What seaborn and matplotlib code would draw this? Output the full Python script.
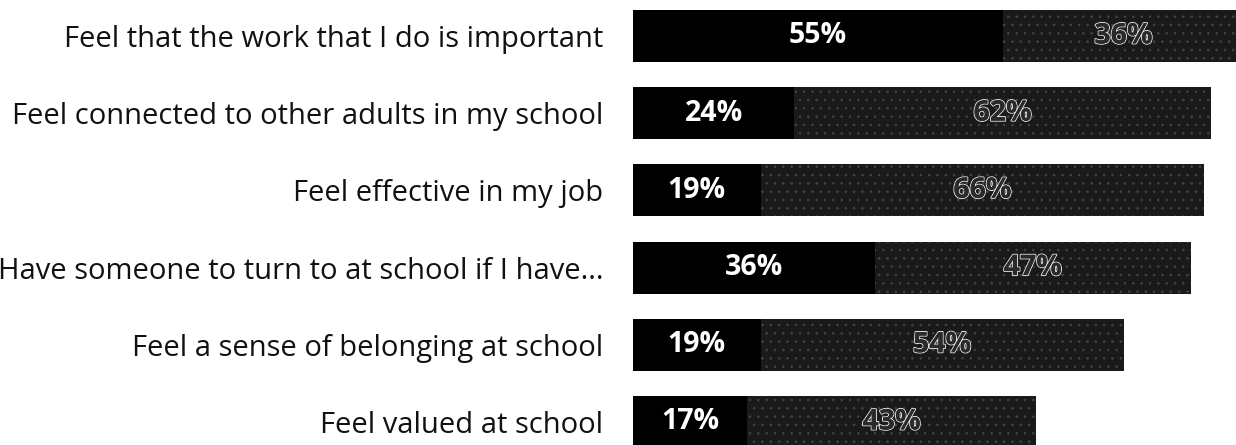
import matplotlib
matplotlib.use("Agg")
import matplotlib.pyplot as plt
import matplotlib.patheffects as pe
import numpy as np
import pandas as pd
import seaborn as sns

# Survey items and response shares (%)
items = [
    "Feel that the work that I do is important",
    "Feel connected to other adults in my school",
    "Feel effective in my job",
    "Have someone to turn to at school if I have...",
    "Feel a sense of belonging at school",
    "Feel valued at school",
]
strongly_agree = [55, 24, 19, 36, 19, 17]
agree = [36, 62, 66, 47, 54, 43]

sns.set_theme(style="white")
plt.rcParams["font.family"] = ["Open Sans", "DejaVu Sans"]
plt.rcParams["hatch.linewidth"] = 0.6

df = pd.DataFrame({"item": items, "strongly": strongly_agree, "agree": agree})
df["total"] = df["strongly"] + df["agree"]

W, H = 1236, 445
fig = plt.figure(figsize=(W / 100, H / 100), dpi=100)
left = 633 / W
ax = fig.add_axes([left, 0, 1 - left, 1])

# Combined bar (agree) drawn first, strongly-agree segment on top
sns.barplot(data=df, y="item", x="total", color="#1a1a1a", saturation=1,
            width=0.675, ax=ax, hatch="..", edgecolor="#444444", linewidth=0)
sns.barplot(data=df, y="item", x="strongly", color="#000000", saturation=1,
            width=0.675, ax=ax, linewidth=0)

ax.set_xlim(0, (W - 633) / 6.72)
ax.set_ylim(5.298, -0.466)

for i, (s, a) in enumerate(zip(strongly_agree, agree)):
    ax.text(s / 2, i, f"{s}%", ha="center", va="center", color="white",
            fontsize=20.5, fontweight="bold")
    t = ax.text(s + a / 2, i, f"{a}%", ha="center", va="center",
                color="#2a2a2a", fontsize=20.5, fontweight="bold")
    t.set_path_effects([pe.withStroke(linewidth=1.4, foreground="#e8e8e8"),
                        pe.Normal()])

ax.set_xlabel("")
ax.set_ylabel("")
ax.xaxis.set_visible(False)
ax.tick_params(axis="y", length=0, pad=21.5, labelsize=21, labelcolor="#111111")
for sp in ax.spines.values():
    sp.set_visible(False)

fig.savefig("out.png", dpi=100, facecolor="white")
